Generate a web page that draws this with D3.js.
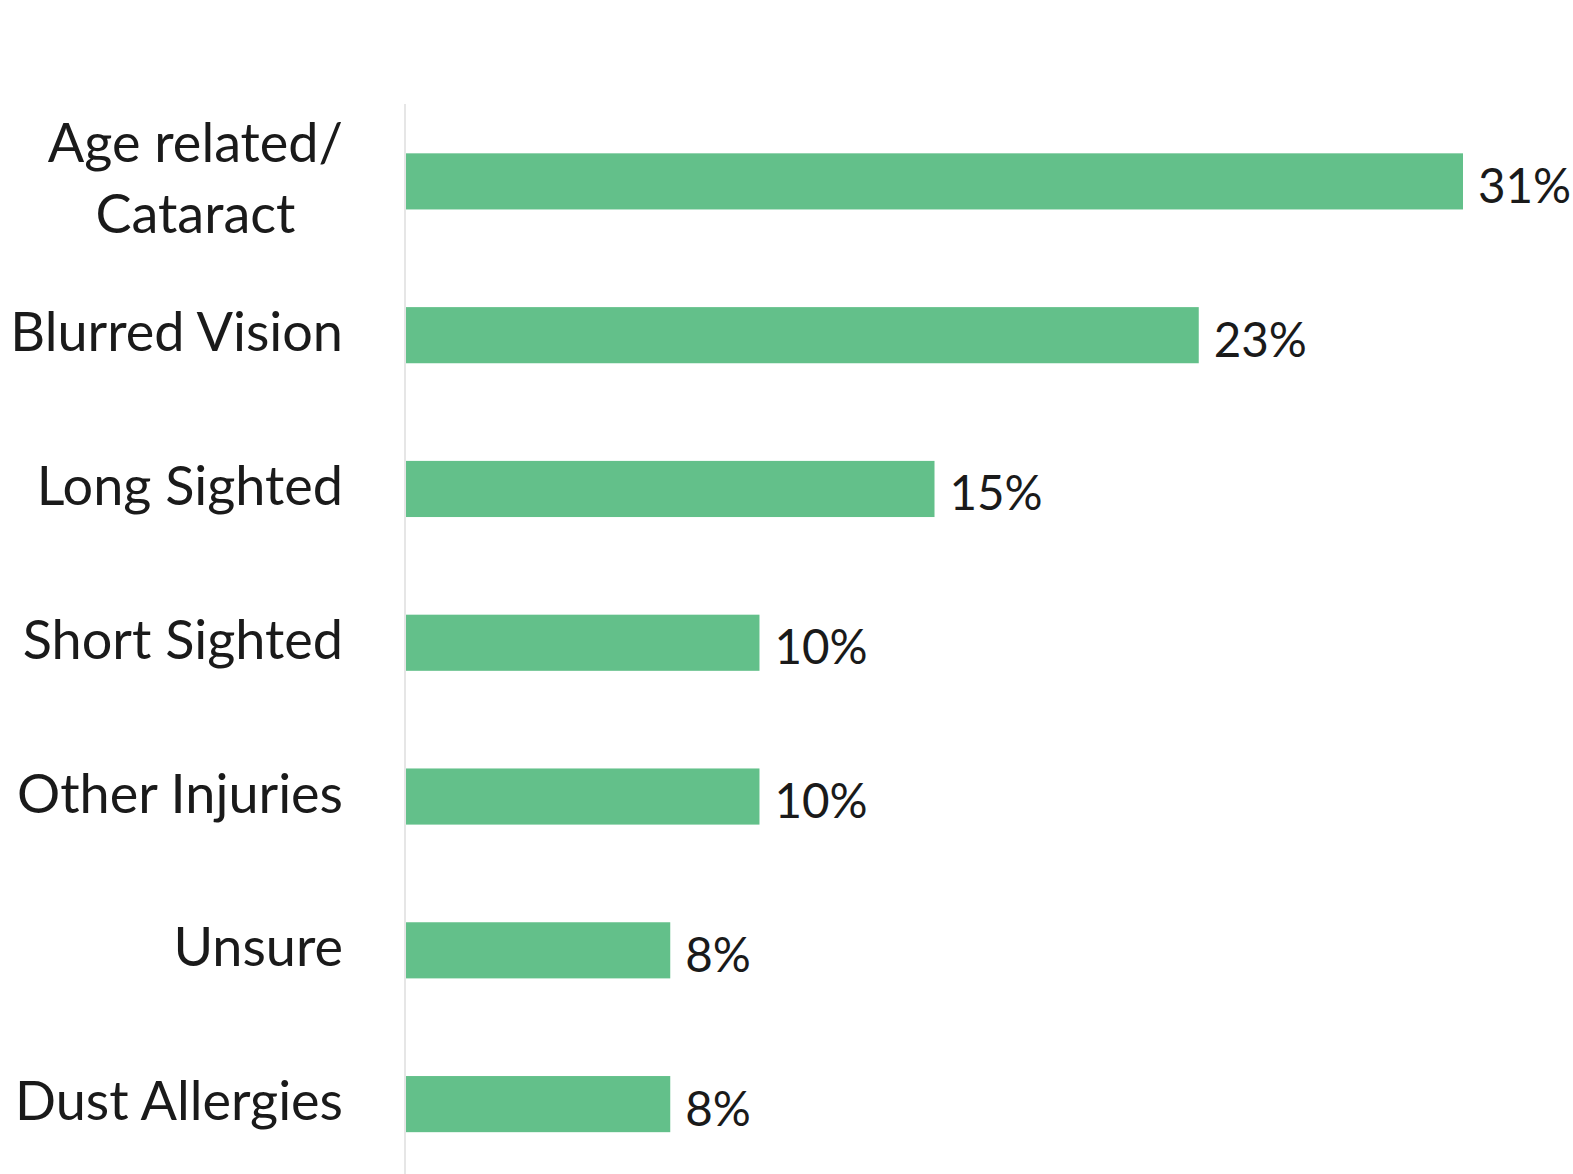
<!DOCTYPE html>
<html>
<head>
<meta charset="utf-8">
<script src="https://cdn.jsdelivr.net/npm/d3@7"></script>
<style>
  body { margin: 0; background: #fff; }
</style>
</head>
<body>
<div id="chart"></div>
<script>
var categories = ["Age related/ Cataract", "Blurred Vision", "Long Sighted", "Short Sighted", "Other Injuries", "Unsure", "Dust Allergies"];
var values = [30.8, 23.1, 15.4, 10.3, 10.3, 7.7, 7.7];
var valueLabels = ["31%", "23%", "15%", "10%", "10%", "8%", "8%"];

var data = categories.map(function(c, i) { return { cat: c, value: values[i], label: valueLabels[i] }; });

var width = 1573, height = 1174;

var svg = d3.select("#chart")
    .append("svg")
    .attr("width", width)
    .attr("height", height);

// scales
var x = d3.scaleLinear()
    .domain([0, d3.max(values)])
    .range([406, 1463]);

var y = d3.scaleBand()
    .domain(categories)
    .range([104.5, 1181])
    .paddingInner(0.635)
    .paddingOuter(0.3175);

// light axis line
svg.append("line")
    .attr("x1", 405).attr("x2", 405)
    .attr("y1", 104).attr("y2", height)
    .attr("stroke", "#e6e6e6")
    .attr("stroke-width", 2);

// bars
svg.append("g")
    .selectAll("rect")
    .data(data)
    .enter()
    .append("rect")
    .attr("x", x(0))
    .attr("y", function(d) { return y(d.cat); })
    .attr("width", function(d) { return x(d.value) - x(0); })
    .attr("height", y.bandwidth())
    .attr("fill", "#63c08a");

// value labels
svg.append("g")
    .selectAll("text")
    .data(data)
    .enter()
    .append("text")
    .attr("x", function(d) { return x(d.value) + 15; })
    .attr("y", function(d) { return y(d.cat) + y.bandwidth() / 2 + 21.5; })
    .text(function(d) { return d.label; })
    .style("font-family", "Lato, sans-serif")
    .style("font-size", "47.5px")
    .attr("fill", "#1a1a1a");

// category labels, wrapped on "/ "
var labelRight = 343, lineHeight = 71;
var cats = svg.append("g")
    .selectAll("text")
    .data(data)
    .enter()
    .append("text")
    .style("font-family", "Lato, sans-serif")
    .style("font-size", "54px")
    .attr("fill", "#1a1a1a");

cats.each(function(d) {
    var t = d3.select(this);
    var lines = d.cat.indexOf("/ ") > -1 ? [d.cat.split("/ ")[0] + "/", d.cat.split("/ ")[1]] : [d.cat];
    var cy = y(d.cat) + y.bandwidth() / 2 + 16 - (lines.length - 1) * lineHeight / 2;
    var spans = lines.map(function(l, i) {
        return t.append("tspan").attr("y", cy + i * lineHeight).text(l);
    });
    // center the lines on the widest one, right edge at labelRight
    var widths = spans.map(function(s) { return s.node().getComputedTextLength(); });
    var maxW = d3.max(widths);
    spans.forEach(function(s, i) {
        s.attr("x", labelRight - maxW / 2 - widths[i] / 2);
    });
});
</script>
</body>
</html>
